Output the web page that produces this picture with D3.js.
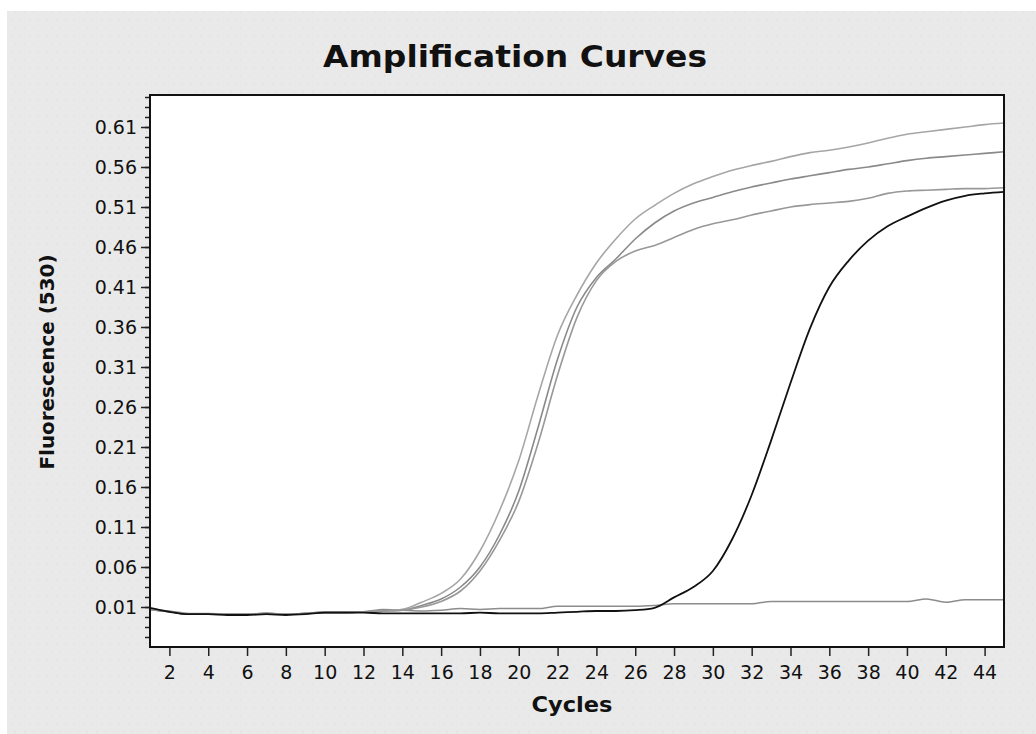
<!DOCTYPE html>
<html>
<head>
<meta charset="utf-8">
<script src="https://cdn.jsdelivr.net/npm/d3@7"></script>
<style>
  body { margin: 0; background: #ffffff; }
  svg { display: block; }
  .tick text { font-family: "DejaVu Sans", sans-serif; font-size: 19px; fill: #111; }
</style>
</head>
<body>
<div id="chart"></div>
<script>
// cycle numbers and fluorescence readings (530)
var cycles = [1,2,3,4,5,6,7,8,9,10,11,12,13,14,15,16,17,18,19,20,21,22,23,24,25,26,27,28,29,30,31,32,33,34,35,36,37,38,39,40,41,42,43,44,45]

var sampleA = [0.007,0.004,0.001,0.001,0.001,0.001,0.002,0.001,0.002,0.003,0.003,0.004,0.005,0.007,0.016,0.027,0.045,0.080,0.130,0.193,0.275,0.350,0.400,0.440,0.470,0.495,0.512,0.527,0.539,0.548,0.556,0.562,0.567,0.573,0.578,0.581,0.585,0.590,0.596,0.601,0.604,0.607,0.610,0.613,0.615]
var sampleB = [0.007,0.004,0.001,0.001,0.001,0.001,0.002,0.001,0.002,0.003,0.003,0.004,0.005,0.006,0.012,0.020,0.035,0.060,0.100,0.155,0.235,0.320,0.385,0.422,0.445,0.470,0.490,0.505,0.515,0.522,0.529,0.535,0.540,0.545,0.549,0.553,0.557,0.560,0.564,0.568,0.571,0.573,0.575,0.577,0.579]
var sampleC = [0.007,0.004,0.001,0.001,0.001,0.001,0.002,0.001,0.002,0.003,0.003,0.004,0.005,0.006,0.010,0.017,0.030,0.055,0.093,0.142,0.215,0.300,0.372,0.418,0.442,0.455,0.462,0.472,0.482,0.489,0.494,0.500,0.505,0.510,0.513,0.515,0.517,0.521,0.527,0.530,0.531,0.532,0.533,0.533,0.534]
var sampleLate = [0.009,0.004,0.001,0.001,0.000,0.000,0.001,0.000,0.001,0.003,0.003,0.003,0.002,0.002,0.002,0.002,0.002,0.003,0.002,0.002,0.002,0.003,0.004,0.005,0.005,0.006,0.009,0.022,0.035,0.055,0.095,0.150,0.218,0.290,0.358,0.410,0.443,0.468,0.486,0.498,0.509,0.518,0.524,0.527,0.529]
var negative = [0.007,0.005,0.002,0.002,0.001,0.001,0.002,0.001,0.002,0.004,0.004,0.004,0.007,0.006,0.005,0.006,0.008,0.007,0.008,0.008,0.008,0.011,0.011,0.011,0.011,0.011,0.012,0.014,0.014,0.014,0.014,0.014,0.017,0.017,0.017,0.017,0.017,0.017,0.017,0.017,0.020,0.016,0.019,0.019,0.019]

var xTicks = [2,4,6,8,10,12,14,16,18,20,22,24,26,28,30,32,34,36,38,40,42,44]
var yTicks = [0.01,0.06,0.11,0.16,0.21,0.26,0.31,0.36,0.41,0.46,0.51,0.56,0.61]

var width = 1036
var height = 734
var plot = {left: 150, top: 95, right: 1004, bottom: 647}

var svg = d3.select("#chart")
			.append("svg")
			.attr("width", width)
			.attr("height", height)

// grey panel with faint dot texture
var defs = svg.append("defs")
var pat = defs.append("pattern")
			.attr("id", "dots")
			.attr("width", 18)
			.attr("height", 16)
			.attr("patternUnits", "userSpaceOnUse")
pat.append("rect").attr("width", 18).attr("height", 16).attr("fill", "#e9e9e9")
pat.append("rect").attr("x", 2).attr("y", 3).attr("width", 1).attr("height", 1).attr("fill", "#d9d9d9")
pat.append("rect").attr("x", 11).attr("y", 3).attr("width", 1).attr("height", 1).attr("fill", "#d9d9d9")
pat.append("rect").attr("x", 6).attr("y", 11).attr("width", 1).attr("height", 1).attr("fill", "#dcdcdc")
pat.append("rect").attr("x", 15).attr("y", 11).attr("width", 1).attr("height", 1).attr("fill", "#dcdcdc")

defs.append("clipPath").attr("id", "plotClip")
	.append("rect")
	.attr("x", plot.left).attr("y", plot.top)
	.attr("width", plot.right - plot.left).attr("height", plot.bottom - plot.top)

svg.append("rect")
   .attr("x", 7).attr("y", 11)
   .attr("width", width - 7).attr("height", height - 11)
   .attr("fill", "url(#dots)")

svg.append("rect")
   .attr("x", plot.left).attr("y", plot.top)
   .attr("width", plot.right - plot.left).attr("height", plot.bottom - plot.top)
   .attr("fill", "#ffffff")

var xScale = d3.scaleLinear().domain([1, 45]).range([plot.left, plot.right])
var yScale = d3.scaleLinear().domain([-0.04, 0.65]).range([plot.bottom, plot.top])

// minor ticks on the y axis (4 per labelled step)
var yMinor = d3.range(-0.0275, 0.65, 0.0125)
svg.append("g")
   .attr("transform", "translate(" + plot.left + ",0)")
   .call(d3.axisLeft(yScale).tickValues(yMinor).tickSize(5).tickFormat(""))
   .call(g => g.select(".domain").remove())
   .call(g => g.selectAll("line").attr("stroke", "#222").attr("stroke-width", 1.5))

svg.append("g")
   .attr("class", "axis axis--y")
   .attr("transform", "translate(" + plot.left + ",0)")
   .call(d3.axisLeft(yScale).tickValues(yTicks).tickSize(9).tickPadding(4).tickFormat(d3.format(".2f")))
   .call(g => g.select(".domain").remove())
   .call(g => g.selectAll("line").attr("stroke", "#222").attr("stroke-width", 1.5))

svg.append("g")
   .attr("class", "axis axis--x")
   .attr("transform", "translate(0," + plot.bottom + ")")
   .call(d3.axisBottom(xScale).tickValues(xTicks).tickSize(9).tickPadding(10).tickFormat(d3.format("d")))
   .call(g => g.select(".domain").remove())
   .call(g => g.selectAll("line").attr("stroke", "#222").attr("stroke-width", 1.5))

var line = d3.line()
			.curve(d3.curveMonotoneX)
			.x((d, i) => xScale(cycles[i]))
			.y(d => yScale(d))

var series = [
	{values: negative, color: "#8c8c8c", w: 1.5},
	{values: sampleA, color: "#a6a6a6", w: 1.6},
	{values: sampleB, color: "#8a8a8a", w: 1.6},
	{values: sampleC, color: "#989898", w: 1.6},
	{values: sampleLate, color: "#111111", w: 1.8}
]

svg.append("g")
   .attr("clip-path", "url(#plotClip)")
   .selectAll("path")
   .data(series)
   .enter()
   .append("path")
   .attr("d", d => line(d.values))
   .attr("fill", "none")
   .attr("stroke", d => d.color)
   .attr("stroke-width", d => d.w)

// plot frame
svg.append("rect")
   .attr("x", plot.left).attr("y", plot.top)
   .attr("width", plot.right - plot.left).attr("height", plot.bottom - plot.top)
   .attr("fill", "none")
   .attr("stroke", "#111")
   .attr("stroke-width", 2)

svg.append("text")
   .attr("x", 515)
   .attr("y", 67)
   .attr("text-anchor", "middle")
   .attr("textLength", 384)
   .attr("lengthAdjust", "spacingAndGlyphs")
   .style("font-family", "'DejaVu Sans', sans-serif")
   .style("font-weight", "bold")
   .style("font-size", "30px")
   .style("fill", "#111")
   .text("Amplification Curves")

svg.append("text")      // label for the x axis
   .attr("x", 572)
   .attr("y", 712)
   .attr("text-anchor", "middle")
   .attr("textLength", 81)
   .attr("lengthAdjust", "spacingAndGlyphs")
   .style("font-family", "'DejaVu Sans', sans-serif")
   .style("font-weight", "bold")
   .style("font-size", "22px")
   .style("fill", "#111")
   .text("Cycles")

svg.append("text")      // label for the y axis
   .attr("transform", "translate(54,362) rotate(-90)")
   .attr("text-anchor", "middle")
   .attr("textLength", 215)
   .attr("lengthAdjust", "spacingAndGlyphs")
   .style("font-family", "'DejaVu Sans', sans-serif")
   .style("font-weight", "bold")
   .style("font-size", "20px")
   .style("fill", "#111")
   .text("Fluorescence (530)")
</script>
</body>
</html>
